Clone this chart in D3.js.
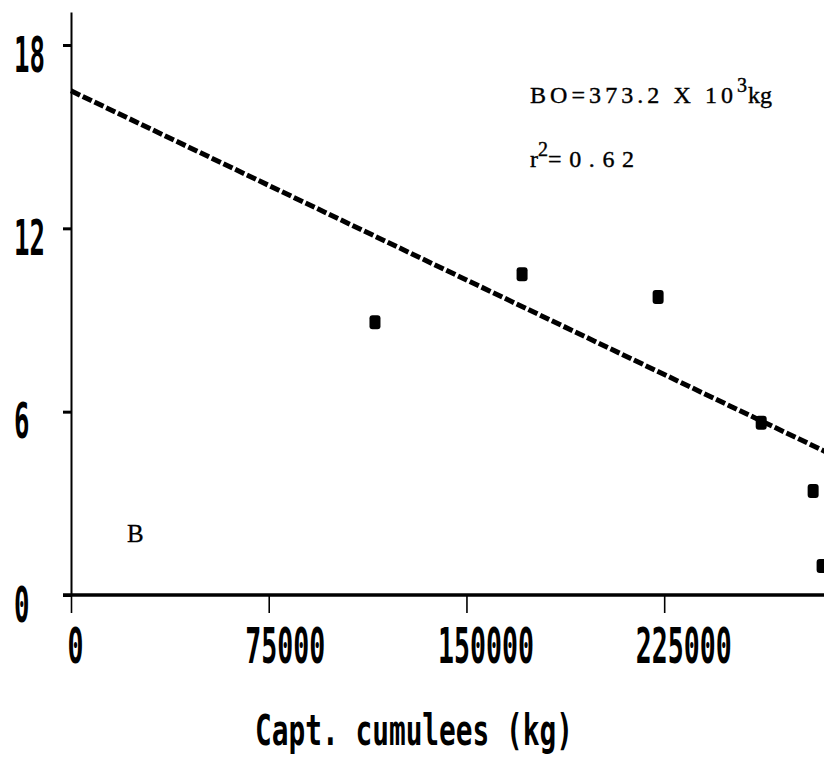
<!DOCTYPE html>
<html>
<head>
<meta charset="utf-8">
<script src="https://cdn.jsdelivr.net/npm/d3@7"></script>
<style>
    body { margin: 0; background: white; }
    svg  { display: block; }
</style>
</head>
<body>
<div id="chart"></div>
<script>
// Data
//
var catchCum   = [115300, 171100, 222700, 261800, 281500, 284900];   // kg
var cpue       = [8.93, 10.50, 9.75, 5.64, 3.40, 0.95];
var fitX       = [0, 286000];
var fitY       = [16.5, 4.7];
var xTicks     = [0, 75000, 150000, 225000];
var yTicks     = [0, 6, 12, 18];
var xTitle     = 'Capt. cumulees (kg)';
var panelLabel = 'B';

// Set globals
//
var svg_width  = 824;
var svg_height = 760;

var x_box_min  = 71;
var x_box_max  = 825;
var y_box_min  = 12;
var y_box_max  = 595;

var xScale = d3.scaleLinear().domain([0, 286000]).range([x_box_min, x_box_max]);
var yScale = d3.scaleLinear().domain([0, 19.08]).range([y_box_max, y_box_min]);

var svg = d3.select("#chart").append("svg")
    .attr("width", svg_width)
    .attr("height", svg_height)
    .attr("viewBox", `0 0 ${svg_width} ${svg_height}`);

svg.append("rect")
    .attr("width", svg_width)
    .attr("height", svg_height)
    .attr("fill", "white");

var tickFont = "'DejaVu Sans Mono', monospace";

// Y axis
//
var yAxis = svg.append("g")
    .attr("transform", `translate(${x_box_min},0)`)
    .call(d3.axisLeft(yScale).tickValues(yTicks).tickSize(8).tickSizeOuter(0).tickFormat(d3.format("d")));

yAxis.select(".domain").attr("stroke", "black").attr("stroke-width", 2);
yAxis.selectAll(".tick line").attr("stroke", "black").attr("stroke-width", 3);
yAxis.selectAll(".tick text")
    .attr("x", -57)
    .attr("dy", 26)
    .attr("text-anchor", "start")
    .attr("font-family", tickFont)
    .attr("font-weight", "bold")
    .attr("font-size", 50)
    .attr("fill", "black")
    .attr("textLength", d => String(d).length * 15.5)
    .attr("lengthAdjust", "spacingAndGlyphs");

// X axis
//
var xAxis = svg.append("g")
    .attr("transform", `translate(0,${y_box_max})`)
    .call(d3.axisBottom(xScale).tickValues(xTicks).tickSize(18).tickSizeOuter(0).tickFormat(d3.format("d")));

xAxis.select(".domain")
    .attr("d", `M${x_box_min - 8},0H${x_box_max}`)
    .attr("stroke", "black").attr("stroke-width", 3.5);
xAxis.selectAll(".tick line").attr("stroke", "black").attr("stroke-width", 1.6);
xAxis.selectAll(".tick text")
    .attr("y", 68)
    .attr("dy", 0)
    .attr("x", d => -4 - (String(d).length - 1) * 5)
    .attr("text-anchor", "start")
    .attr("font-family", tickFont)
    .attr("font-weight", "bold")
    .attr("font-size", 50)
    .attr("fill", "black")
    .attr("textLength", d => String(d).length * 16)
    .attr("lengthAdjust", "spacingAndGlyphs");

// Axis title
//
svg.append("text")
    .attr("x", 255)
    .attr("y", 745)
    .attr("font-family", tickFont)
    .attr("font-weight", "bold")
    .attr("font-size", 42)
    .attr("textLength", 318)
    .attr("lengthAdjust", "spacingAndGlyphs")
    .attr("fill", "black")
    .text(xTitle);

// Regression line
//
var fitData = fitX.map((x, i) => ({x: x, y: fitY[i]}));
svg.append("path")
    .datum(fitData)
    .attr("d", d3.line().x(d => xScale(d.x)).y(d => yScale(d.y)))
    .attr("fill", "none")
    .attr("stroke", "black")
    .attr("stroke-width", 5)
    .attr("stroke-dasharray", "10,3");

// Observations
//
var points = catchCum.map((x, i) => ({x: x, y: cpue[i]}));
svg.append("g").attr("class", "points")
    .selectAll("rect")
    .data(points)
    .enter().append("rect")
    .attr("x", d => xScale(d.x) - 5.5)
    .attr("y", d => yScale(d.y) - 7)
    .attr("width", 11)
    .attr("height", 14)
    .attr("rx", 3)
    .attr("fill", "black");

// Annotations
//
var annoFont = "'Liberation Serif', 'Times New Roman', serif";

var t1 = svg.append("text")
    .attr("x", 530)
    .attr("y", 103)
    .attr("font-family", annoFont)
    .attr("font-size", 24)
    .attr("fill", "black")
    .attr("stroke", "black")
    .attr("stroke-width", 0.4);
t1.append("tspan").attr("textLength", 203).attr("lengthAdjust", "spacing").text("BO=373.2 X 10");
t1.append("tspan").attr("dy", -11).attr("font-size", 20).text("3");
t1.append("tspan").attr("dy", 11).attr("dx", 1).text("kg");

var t2 = svg.append("text")
    .attr("x", 530)
    .attr("y", 167)
    .attr("font-family", annoFont)
    .attr("font-size", 24)
    .attr("fill", "black")
    .attr("stroke", "black")
    .attr("stroke-width", 0.4);
t2.append("tspan").text("r");
t2.append("tspan").attr("dy", -11).attr("font-size", 20).text("2");
t2.append("tspan").attr("dy", 11).attr("textLength", 86).attr("lengthAdjust", "spacing").text("=0.62");

svg.append("text")
    .attr("x", 127)
    .attr("y", 542)
    .attr("font-family", annoFont)
    .attr("font-size", 25)
    .attr("fill", "black")
    .attr("stroke", "black")
    .attr("stroke-width", 0.3)
    .text(panelLabel);
</script>
</body>
</html>
